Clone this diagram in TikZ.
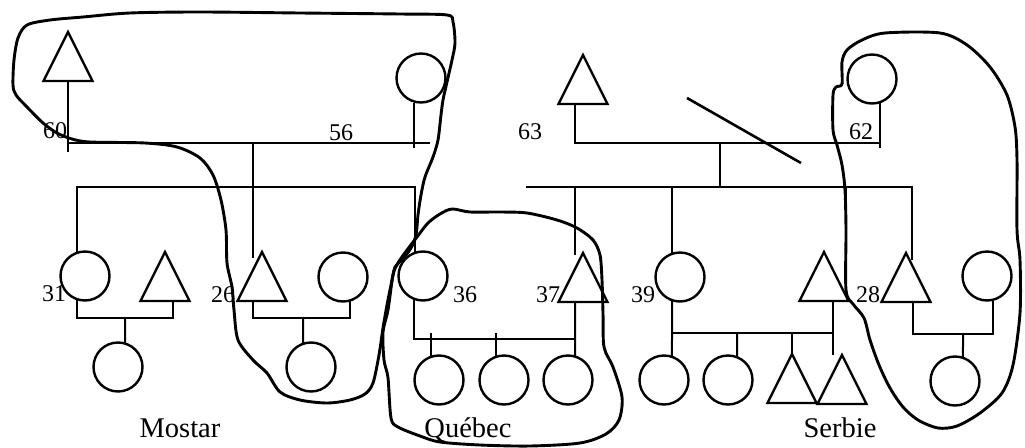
\documentclass[tikz,border=0pt]{standalone}
\usepackage{fontspec}
\setmainfont{Liberation Serif}
\usetikzlibrary{shapes.geometric}

\begin{document}
\begin{tikzpicture}[x={(1pt,0pt)}, y={(0pt,-1pt)}, line width=2pt,
    fem/.style={draw, circle, minimum size=49pt, inner sep=0pt, outer sep=0pt, line width=2.4pt},
    mal/.style={draw, isosceles triangle, isosceles triangle stretches, shape border rotate=90,
        minimum width=49pt, minimum height=49pt, inner sep=0pt, outer sep=0pt, anchor=apex, line width=2.4pt},
    lbl/.style={inner sep=0pt, font=\fontsize{24}{24}\selectfont},
    site/.style={inner sep=0pt, anchor=base, font=\fontsize{28.5}{28.5}\selectfont},
    ring/.style={line width=2.9pt, line join=round}]
    \useasboundingbox (0,0) rectangle (1025,447);

    % Mostar
    \node[mal] (i60) at (68,32) {};
    \node[fem] (i56) at (421,78) {};
    \node[fem] (i31) at (85,276) {};
    \node[mal] (h31) at (165,252) {};
    \node[fem] (c31) at (118,367) {};
    \node[mal] (i26) at (262,252) {};
    \node[fem] (w26) at (343,277) {};
    \node[fem] (c26) at (311,367) {};
    % Quebec
    \node[fem] (i36) at (423,276) {};
    \node[mal] (i37) at (583,253) {};
    \foreach \x/\n in {439/q1,504/q2,568/q3}{\node[fem] (\n) at (\x,380) {};}
    % Serbie
    \node[mal] (i63) at (583,55) {};
    \node[fem] (i62) at (872,79) {};
    \node[fem] (i39) at (680,277) {};
    \node[mal] (h39) at (824,252) {};
    \node[fem] (s1) at (664,380) {};
    \node[fem] (s2) at (728,380) {};
    \node[mal] (s3) at (792,354) {};
    \node[mal] (s4) at (842,355) {};
    \node[mal] (i28) at (906,253) {};
    \node[fem] (w28) at (987,276) {};
    \node[fem] (c28) at (955,381) {};

    \coordinate (m1) at (253,143);
    \coordinate (m2) at (253,187);
    \coordinate (e1) at (430,143);
    \draw (i60.south) -- ++(0,71);
    \draw (i60.south |- m1) -- (e1);
    \draw ([xshift=-7pt]i56.south) -- ++(0,45);
    \draw (m1) -- (m2);
    \draw (i31.108) |- (m2) -| (i36.109);
    \draw (m2) -- ++(0,71);

    \coordinate (k31) at (125,318);
    \draw (i31.252) |- (k31) -| ([xshift=8pt]h31.south);
    \draw (k31) -- (c31.73);
    \coordinate (k26) at (303,318);
    \draw ([xshift=-9pt]i26.south) |- (k26) -| (w26.287);
    \draw (k26) -- (c26.109);

    \coordinate (k36) at (575,339);
    \draw (i36.248) |- (k36);
    \draw ([xshift=-8pt]i37.south) -- (q3.73);
    \draw (q1.109) -- ++(0,-24);
    \draw (q2.109) -- ++(0,-24);

    \coordinate (m3) at (720,143);
    \coordinate (m4) at (720,187);
    \coordinate (e4) at (526,187);
    \coordinate (r39) at (846,295);
    \draw ([xshift=-8pt]i63.south) |- (m3) -| (i62.289);
    \draw (i62.289) -- ++(0,46);
    \draw (m3) -- (m4);
    \draw (e4) -- (m4) -| ([xshift=6pt,yshift=-7pt]i28.apex);
    \draw (m4 -| q3.73) -- ++(0,68);
    \draw (m4 -| i39.109) -- (i39.109);
    \draw (m4 -| r39) -- (r39);

    \coordinate (k39) at (737,333);
    \coordinate (b39) at (833,301);
    \draw (i39.251) -- (s1.71);
    \draw (b39) -- ++(0,54);
    \draw (i39.251 |- k39) -- (b39 |- k39);
    \draw (k39) -- (s2.68);
    \draw (k39 -| s3.apex) -- (s3.apex);
    \coordinate (k28) at (963,334);
    \draw ([xshift=7pt]i28.south) |- (k28) -| (w28.284);
    \draw (k28) -- (c28.71);
    \draw[line width=2.6pt] (687,98) -- (801,163);

    \foreach \t/\x/\y in {60/55/131,56/341/133,63/530/132,62/861/132,31/54/294,26/223/295,36/465/295,37/548/295,39/643/295,28/868/295}{\node[lbl] (n\t) at (\x,\y) {\t};}
    \node[site] (mostar) at (180,437) {Mostar};
    \node[site] (quebec) at (468,437) {Québec};
    \node[site] (serbie) at (840,437) {Serbie};

    \draw[ring] plot[smooth cycle, tension=0.5] coordinates {(27,25) (50,20) (83,17) (130,13) (200,12) (300,13) (400,14) (447,15) (453,22) (455,43) (452,60) (447,82) (443,100) (441,115) (438,140) (433,157) (425,177) (421,195) (418,215) (416,235) (411,248) (402,260) (395,267) (391,285) (387,305) (383,328) (379,355) (373,383) (365,394) (350,400) (327,403) (300,400) (280,392) (267,373) (253,360) (238,340) (234,310) (232,287) (227,263) (226,230) (221,200) (213,175) (200,158) (177,147) (145,143) (90,142) (72,139) (57,133) (43,123) (27,107) (16,95) (13,85) (14,60) (18,38)};
    \draw[ring] plot[smooth cycle, tension=0.5] coordinates {(452,209) (470,212) (500,212) (527,213) (557,220) (577,228) (593,240) (600,255) (602,280) (603,313) (604,347) (613,367) (622,397) (619,420) (606,434) (580,443) (530,446) (480,445) (440,442) (420,436) (398,427) (391,418) (388,378) (384,360) (383,332) (388,310) (393,275) (398,263) (407,250) (417,237) (428,223) (440,214)};
    \draw[ring] plot[smooth cycle, tension=0.5] coordinates {(885,33) (940,33) (967,45) (990,67) (1007,95) (1015,127) (1017,160) (1017,230) (1020,260) (1020,313) (1013,365) (1002,393) (980,413) (957,426) (938,428) (918,420) (903,407) (890,388) (879,365) (870,340) (864,318) (853,304) (846,290) (846,230) (845,190) (842,165) (837,145) (833,130) (833,95) (836,87) (842,84) (842,62) (847,50) (862,40)};
\end{tikzpicture}
\end{document}
